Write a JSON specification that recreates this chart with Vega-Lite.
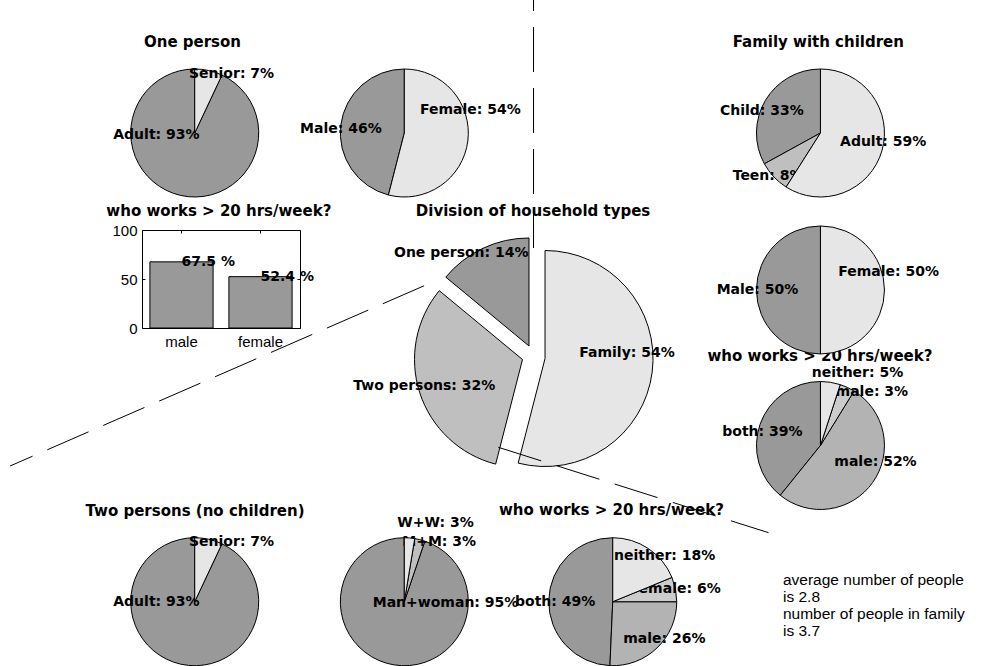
{
  "$schema": "https://vega.github.io/schema/vega-lite/v6.json",
  "width": 984,
  "height": 666,
  "autosize": "none",
  "padding": 0,
  "background": "#ffffff",
  "config": {
    "view": {"stroke": null},
    "axis": {"labelFont": "Liberation Sans", "labelFontSize": 15, "labelColor": "#000000", "domainColor": "#000000", "tickColor": "#000000", "domainWidth": 1, "tickWidth": 1, "grid": false}
  },
  "datasets": {
    "slices": [
      {"pie": "A", "order": 1, "slot": "1/2", "value": 93, "label": "Adult: 93%", "cx": 0.1979, "cy": 0.8003, "lx": 0.1151, "ly": 0.7973},
      {"pie": "A", "order": 2, "slot": "2/2", "value": 7, "label": "Senior: 7%", "cx": 0.1979, "cy": 0.8003, "lx": 0.1921, "ly": 0.8889},
      {"pie": "B", "order": 1, "slot": "1/2", "value": 46, "label": "Male: 46%", "cx": 0.4109, "cy": 0.8003, "lx": 0.3049, "ly": 0.8059},
      {"pie": "B", "order": 2, "slot": "2/2", "value": 54, "label": "Female: 54%", "cx": 0.4109, "cy": 0.8003, "lx": 0.4268, "ly": 0.8348},
      {"pie": "C", "order": 1, "slot": "1/3", "value": 33, "label": "Child: 33%", "cx": 0.8338, "cy": 0.8003, "lx": 0.7317, "ly": 0.8333},
      {"pie": "C", "order": 2, "slot": "2/3", "value": 8, "label": "Teen: 8%", "cx": 0.8338, "cy": 0.8003, "lx": 0.7446, "ly": 0.7362},
      {"pie": "C", "order": 3, "slot": "3/3", "value": 59, "label": "Adult: 59%", "cx": 0.8338, "cy": 0.8003, "lx": 0.8537, "ly": 0.7872},
      {"pie": "D", "order": 1, "slot": "1/2", "value": 50, "label": "Male: 50%", "cx": 0.8338, "cy": 0.5646, "lx": 0.7283, "ly": 0.5646},
      {"pie": "D", "order": 2, "slot": "2/2", "value": 50, "label": "Female: 50%", "cx": 0.8338, "cy": 0.5646, "lx": 0.8519, "ly": 0.5920},
      {"pie": "E", "order": 1, "slot": "1/4", "value": 39.2, "label": "both: 39%", "cx": 0.8338, "cy": 0.3311, "lx": 0.7340, "ly": 0.3518},
      {"pie": "E", "order": 2, "slot": "2/4", "value": 52, "label": "male: 52%", "cx": 0.8338, "cy": 0.3311, "lx": 0.8479, "ly": 0.3059},
      {"pie": "E", "order": 3, "slot": "3/4", "value": 3.8, "label": "female: 3%", "cx": 0.8338, "cy": 0.3311, "lx": 0.8333, "ly": 0.4119},
      {"pie": "E", "order": 4, "slot": "4/4", "value": 5, "label": "neither: 5%", "cx": 0.8338, "cy": 0.3311, "lx": 0.8249, "ly": 0.4404},
      {"pie": "F", "order": 1, "slot": "1/2", "value": 93, "label": "Adult: 93%", "cx": 0.1979, "cy": 0.0965, "lx": 0.1151, "ly": 0.0965},
      {"pie": "F", "order": 2, "slot": "2/2", "value": 7, "label": "Senior: 7%", "cx": 0.1979, "cy": 0.0965, "lx": 0.1921, "ly": 0.1857},
      {"pie": "G", "order": 1, "slot": "1/3", "value": 94.8, "label": "Man+woman: 95%", "cx": 0.4109, "cy": 0.0965, "lx": 0.3788, "ly": 0.0950},
      {"pie": "G", "order": 2, "slot": "2/3", "value": 2.6, "label": "M+M: 3%", "cx": 0.4109, "cy": 0.0965, "lx": 0.4088, "ly": 0.1866},
      {"pie": "G", "order": 3, "slot": "3/3", "value": 2.6, "label": "W+W: 3%", "cx": 0.4109, "cy": 0.0965, "lx": 0.4038, "ly": 0.2143},
      {"pie": "H", "order": 1, "slot": "1/4", "value": 49.3, "label": "both: 49%", "cx": 0.6227, "cy": 0.0965, "lx": 0.5234, "ly": 0.0965},
      {"pie": "H", "order": 2, "slot": "2/4", "value": 25.7, "label": "male: 26%", "cx": 0.6227, "cy": 0.0965, "lx": 0.6334, "ly": 0.0401},
      {"pie": "H", "order": 3, "slot": "3/4", "value": 6.2, "label": "female: 6%", "cx": 0.6227, "cy": 0.0965, "lx": 0.6428, "ly": 0.1156},
      {"pie": "H", "order": 4, "slot": "4/4", "value": 18.8, "label": "neither: 18%", "cx": 0.6227, "cy": 0.0965, "lx": 0.6240, "ly": 0.1656},
      {"pie": "K", "order": 1, "slot": "1/3", "value": 14, "label": "One person: 14%", "cx": 0.5376, "cy": 0.4805, "lx": 0.4004, "ly": 0.6197},
      {"pie": "K", "order": 2, "slot": "2/3", "value": 32, "label": "Two persons: 32%", "cx": 0.5310, "cy": 0.4602, "lx": 0.3590, "ly": 0.4204},
      {"pie": "K", "order": 3, "slot": "3/3", "value": 54, "label": "Family: 54%", "cx": 0.5539, "cy": 0.4617, "lx": 0.5887, "ly": 0.4704}
    ],
    "titles": [
      {"text": "One person", "x": 0.1956, "y": 0.9365},
      {"text": "Family with children", "x": 0.8316, "y": 0.9365},
      {"text": "who works > 20 hrs/week?", "x": 0.2224, "y": 0.6836},
      {"text": "Division of household types", "x": 0.5417, "y": 0.6836},
      {"text": "who works > 20 hrs/week?", "x": 0.8333, "y": 0.4659},
      {"text": "Two persons (no children)", "x": 0.1982, "y": 0.2332},
      {"text": "who works > 20 hrs/week?", "x": 0.6214, "y": 0.2342}
    ],
    "notes": [
      {"text": "average number of people", "x": 0.7957, "y": 0.1291},
      {"text": "is 2.8", "x": 0.7957, "y": 0.1036},
      {"text": "number of people in family", "x": 0.7957, "y": 0.0781},
      {"text": "is 3.7", "x": 0.7957, "y": 0.0526}
    ],
    "guides": [
      {"x": 0.5422, "y": 1.0511, "x2": 0.5422, "y2": 0.6276},
      {"x": 0.4310, "y": 0.5709, "x2": 0.0102, "y2": 0.3003},
      {"x": 0.5064, "y": 0.3284, "x2": 0.7810, "y2": 0.2002}
    ],
    "work": [
      {"sex": "male", "pct": 67.5, "label": "67.5 %"},
      {"sex": "female", "pct": 52.4, "label": "52.4 %"}
    ]
  },
  "resolve": {"scale": {"x": "independent", "y": "independent"}},
  "layer": [
    {
      "data": {"name": "slices"},
      "layer": [
        {
          "data": {"name": "titles"},
          "mark": {"type": "text", "align": "center", "baseline": "middle", "font": "DejaVu Sans", "fontWeight": "bold", "fontSize": 15, "fill": "#000000"},
          "encoding": {
            "x": {"field": "x", "type": "quantitative", "scale": {"domain": [0, 1], "nice": false, "zero": false}, "axis": null},
            "y": {"field": "y", "type": "quantitative", "scale": {"domain": [0, 1], "nice": false, "zero": false}, "axis": null},
            "text": {"field": "text"}
          }
        },
        {
          "data": {"name": "notes"},
          "mark": {"type": "text", "align": "left", "baseline": "middle", "font": "Liberation Sans", "fontSize": 15.5, "fill": "#000000"},
          "encoding": {
            "x": {"field": "x", "type": "quantitative", "scale": {"domain": [0, 1], "nice": false, "zero": false}, "axis": null},
            "y": {"field": "y", "type": "quantitative", "scale": {"domain": [0, 1], "nice": false, "zero": false}, "axis": null},
            "text": {"field": "text"}
          }
        },
        {
          "transform": [
            {"stack": "value", "groupby": ["pie"], "sort": [{"field": "order", "order": "ascending"}], "as": ["v0", "v1"]},
            {"filter": "datum.order == 1 && datum.pie != 'K'"}
          ],
          "mark": {"type": "arc", "outerRadius": 64, "stroke": "#000000", "strokeWidth": 1},
          "encoding": {
            "x": {"field": "cx", "type": "quantitative", "scale": {"domain": [0, 1], "nice": false, "zero": false}, "axis": null},
            "y": {"field": "cy", "type": "quantitative", "scale": {"domain": [0, 1], "nice": false, "zero": false}, "axis": null},
            "theta": {"field": "v0", "type": "quantitative", "scale": {"domain": [0, 100], "range": [6.283185, 0]}, "stack": null},
            "theta2": {"field": "v1"},
            "fill": {"field": "slot", "type": "nominal", "scale": {"domain": ["1/2", "2/2", "1/3", "2/3", "3/3", "1/4", "2/4", "3/4", "4/4"], "range": ["#999999", "#e6e6e6", "#999999", "#bfbfbf", "#e6e6e6", "#999999", "#b3b3b3", "#cccccc", "#e6e6e6"]}, "legend": null}
          }
        },
        {
          "transform": [
            {"stack": "value", "groupby": ["pie"], "sort": [{"field": "order", "order": "ascending"}], "as": ["v0", "v1"]},
            {"filter": "datum.order == 1 && datum.pie == 'K'"}
          ],
          "mark": {"type": "arc", "outerRadius": 108, "stroke": "#000000", "strokeWidth": 1},
          "encoding": {
            "x": {"field": "cx", "type": "quantitative", "scale": {"domain": [0, 1], "nice": false, "zero": false}, "axis": null},
            "y": {"field": "cy", "type": "quantitative", "scale": {"domain": [0, 1], "nice": false, "zero": false}, "axis": null},
            "theta": {"field": "v0", "type": "quantitative", "scale": {"domain": [0, 100], "range": [6.283185, 0]}, "stack": null},
            "theta2": {"field": "v1"},
            "fill": {"field": "slot", "type": "nominal", "legend": null}
          }
        },
        {
          "transform": [{"filter": "datum.order == 1"}],
          "mark": {"type": "text", "align": "left", "baseline": "middle", "font": "DejaVu Sans", "fontWeight": "bold", "fontSize": 14, "fill": "#000000"},
          "encoding": {
            "x": {"field": "lx", "type": "quantitative", "scale": {"domain": [0, 1], "nice": false, "zero": false}, "axis": null},
            "y": {"field": "ly", "type": "quantitative", "scale": {"domain": [0, 1], "nice": false, "zero": false}, "axis": null},
            "text": {"field": "label"}
          }
        },
        {
          "transform": [
            {"stack": "value", "groupby": ["pie"], "sort": [{"field": "order", "order": "ascending"}], "as": ["v0", "v1"]},
            {"filter": "datum.order == 2 && datum.pie != 'K'"}
          ],
          "mark": {"type": "arc", "outerRadius": 64, "stroke": "#000000", "strokeWidth": 1},
          "encoding": {
            "x": {"field": "cx", "type": "quantitative", "scale": {"domain": [0, 1], "nice": false, "zero": false}, "axis": null},
            "y": {"field": "cy", "type": "quantitative", "scale": {"domain": [0, 1], "nice": false, "zero": false}, "axis": null},
            "theta": {"field": "v0", "type": "quantitative", "scale": {"domain": [0, 100], "range": [6.283185, 0]}, "stack": null},
            "theta2": {"field": "v1"},
            "fill": {"field": "slot", "type": "nominal", "legend": null}
          }
        },
        {
          "transform": [
            {"stack": "value", "groupby": ["pie"], "sort": [{"field": "order", "order": "ascending"}], "as": ["v0", "v1"]},
            {"filter": "datum.order == 2 && datum.pie == 'K'"}
          ],
          "mark": {"type": "arc", "outerRadius": 108, "stroke": "#000000", "strokeWidth": 1},
          "encoding": {
            "x": {"field": "cx", "type": "quantitative", "scale": {"domain": [0, 1], "nice": false, "zero": false}, "axis": null},
            "y": {"field": "cy", "type": "quantitative", "scale": {"domain": [0, 1], "nice": false, "zero": false}, "axis": null},
            "theta": {"field": "v0", "type": "quantitative", "scale": {"domain": [0, 100], "range": [6.283185, 0]}, "stack": null},
            "theta2": {"field": "v1"},
            "fill": {"field": "slot", "type": "nominal", "legend": null}
          }
        },
        {
          "transform": [{"filter": "datum.order == 2"}],
          "mark": {"type": "text", "align": "left", "baseline": "middle", "font": "DejaVu Sans", "fontWeight": "bold", "fontSize": 14, "fill": "#000000"},
          "encoding": {
            "x": {"field": "lx", "type": "quantitative", "scale": {"domain": [0, 1], "nice": false, "zero": false}, "axis": null},
            "y": {"field": "ly", "type": "quantitative", "scale": {"domain": [0, 1], "nice": false, "zero": false}, "axis": null},
            "text": {"field": "label"}
          }
        },
        {
          "transform": [
            {"stack": "value", "groupby": ["pie"], "sort": [{"field": "order", "order": "ascending"}], "as": ["v0", "v1"]},
            {"filter": "datum.order == 3 && datum.pie != 'K'"}
          ],
          "mark": {"type": "arc", "outerRadius": 64, "stroke": "#000000", "strokeWidth": 1},
          "encoding": {
            "x": {"field": "cx", "type": "quantitative", "scale": {"domain": [0, 1], "nice": false, "zero": false}, "axis": null},
            "y": {"field": "cy", "type": "quantitative", "scale": {"domain": [0, 1], "nice": false, "zero": false}, "axis": null},
            "theta": {"field": "v0", "type": "quantitative", "scale": {"domain": [0, 100], "range": [6.283185, 0]}, "stack": null},
            "theta2": {"field": "v1"},
            "fill": {"field": "slot", "type": "nominal", "legend": null}
          }
        },
        {
          "transform": [
            {"stack": "value", "groupby": ["pie"], "sort": [{"field": "order", "order": "ascending"}], "as": ["v0", "v1"]},
            {"filter": "datum.order == 3 && datum.pie == 'K'"}
          ],
          "mark": {"type": "arc", "outerRadius": 108, "stroke": "#000000", "strokeWidth": 1},
          "encoding": {
            "x": {"field": "cx", "type": "quantitative", "scale": {"domain": [0, 1], "nice": false, "zero": false}, "axis": null},
            "y": {"field": "cy", "type": "quantitative", "scale": {"domain": [0, 1], "nice": false, "zero": false}, "axis": null},
            "theta": {"field": "v0", "type": "quantitative", "scale": {"domain": [0, 100], "range": [6.283185, 0]}, "stack": null},
            "theta2": {"field": "v1"},
            "fill": {"field": "slot", "type": "nominal", "legend": null}
          }
        },
        {
          "transform": [{"filter": "datum.order == 3"}],
          "mark": {"type": "text", "align": "left", "baseline": "middle", "font": "DejaVu Sans", "fontWeight": "bold", "fontSize": 14, "fill": "#000000"},
          "encoding": {
            "x": {"field": "lx", "type": "quantitative", "scale": {"domain": [0, 1], "nice": false, "zero": false}, "axis": null},
            "y": {"field": "ly", "type": "quantitative", "scale": {"domain": [0, 1], "nice": false, "zero": false}, "axis": null},
            "text": {"field": "label"}
          }
        },
        {
          "transform": [
            {"stack": "value", "groupby": ["pie"], "sort": [{"field": "order", "order": "ascending"}], "as": ["v0", "v1"]},
            {"filter": "datum.order == 4"}
          ],
          "mark": {"type": "arc", "outerRadius": 64, "stroke": "#000000", "strokeWidth": 1},
          "encoding": {
            "x": {"field": "cx", "type": "quantitative", "scale": {"domain": [0, 1], "nice": false, "zero": false}, "axis": null},
            "y": {"field": "cy", "type": "quantitative", "scale": {"domain": [0, 1], "nice": false, "zero": false}, "axis": null},
            "theta": {"field": "v0", "type": "quantitative", "scale": {"domain": [0, 100], "range": [6.283185, 0]}, "stack": null},
            "theta2": {"field": "v1"},
            "fill": {"field": "slot", "type": "nominal", "legend": null}
          }
        },
        {
          "transform": [{"filter": "datum.order == 4"}],
          "mark": {"type": "text", "align": "left", "baseline": "middle", "font": "DejaVu Sans", "fontWeight": "bold", "fontSize": 14, "fill": "#000000"},
          "encoding": {
            "x": {"field": "lx", "type": "quantitative", "scale": {"domain": [0, 1], "nice": false, "zero": false}, "axis": null},
            "y": {"field": "ly", "type": "quantitative", "scale": {"domain": [0, 1], "nice": false, "zero": false}, "axis": null},
            "text": {"field": "label"}
          }
        },
        {
          "data": {"name": "guides"},
          "mark": {"type": "rule", "stroke": "#000000", "strokeWidth": 1, "strokeDash": [45, 16]},
          "encoding": {
            "x": {"field": "x", "type": "quantitative", "scale": {"domain": [0, 1], "nice": false, "zero": false}, "axis": null},
            "y": {"field": "y", "type": "quantitative", "scale": {"domain": [0, 1], "nice": false, "zero": false}, "axis": null},
            "x2": {"field": "x2"},
            "y2": {"field": "y2"}
          }
        }
      ]
    },
    {
      "data": {"name": "work"},
      "layer": [
        {
          "mark": {"type": "bar", "fill": "#999999", "stroke": "#000000", "strokeWidth": 1},
          "encoding": {
            "x": {"field": "sex", "type": "nominal", "sort": ["male", "female"], "scale": {"range": [142, 300], "paddingInner": 0.2, "paddingOuter": 0.1}, "axis": {"orient": "bottom", "offset": -338, "title": null, "labelAngle": 0, "tickSize": -3, "labelPadding": 9}},
            "y": {"field": "pct", "type": "quantitative", "scale": {"domain": [0, 100], "range": [328, 230], "nice": false, "zero": true}, "axis": {"orient": "left", "offset": -142, "title": null, "values": [0, 50, 100], "tickSize": -3, "labelPadding": 8}}
          }
        },
        {
          "mark": {"type": "text", "align": "left", "baseline": "middle", "font": "DejaVu Sans", "fontWeight": "bold", "fontSize": 14, "fill": "#000000"},
          "encoding": {
            "x": {"field": "sex", "type": "nominal", "sort": ["male", "female"]},
            "y": {"field": "pct", "type": "quantitative"},
            "text": {"field": "label"}
          }
        }
      ]
    },
    {
      "data": {"name": "work"},
      "mark": {"type": "bar", "opacity": 0},
      "encoding": {
        "x": {"field": "sex", "type": "nominal", "sort": ["male", "female"], "scale": {"range": [142, 300], "paddingInner": 0.2, "paddingOuter": 0.1}, "axis": {"orient": "top", "offset": -230, "title": null, "labels": false, "tickSize": -3}},
        "y": {"field": "pct", "type": "quantitative", "scale": {"domain": [0, 100], "range": [328, 230], "nice": false, "zero": true}, "axis": {"orient": "right", "offset": -684, "title": null, "labels": false, "values": [0, 50, 100], "tickSize": -3}}
      }
    }
  ]
}
